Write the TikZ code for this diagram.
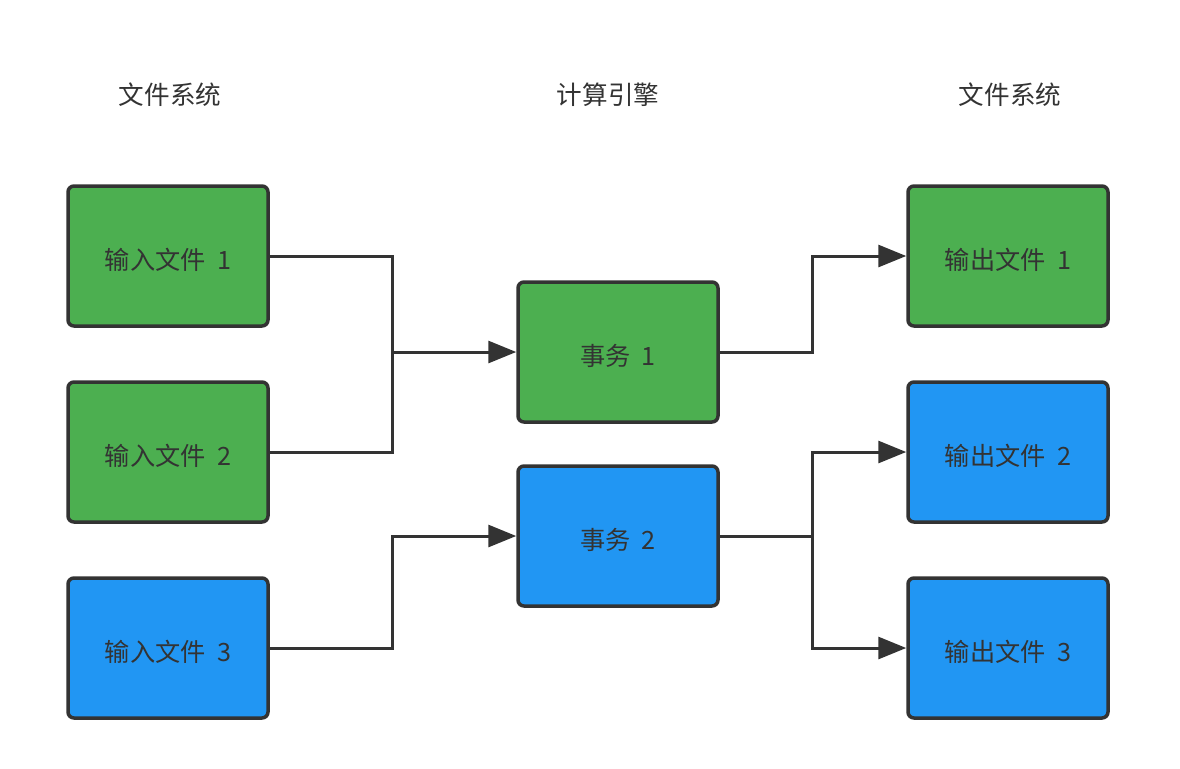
\documentclass[tikz,border=0pt]{standalone}
\usepackage{fontspec}
\setmainfont{Noto Sans CJK SC}
\usetikzlibrary{arrows.meta}
\definecolor{gfill}{HTML}{4CAF50}
\definecolor{bfill}{HTML}{2196F3}
\definecolor{dk}{HTML}{333333}
\begin{document}
\begin{tikzpicture}[x=0.5pt,y=-0.5pt,
  box/.style={draw=dk,line width=1.75pt,rounded corners=3pt,minimum width=100pt,minimum height=70pt,inner sep=0pt,text=dk,font=\fontsize{12.6pt}{14pt}\selectfont,text height=13.2pt,text depth=0pt},
  gbox/.style={box,fill=gfill},
  bbox/.style={box,fill=bfill},
  title/.style={text=dk,font=\fontsize{12.8pt}{15pt}\selectfont},
  conn/.style={draw=dk,line width=1.5pt},
  arr/.style={conn,-{Triangle[length=14pt,width=11pt]}}]
\useasboundingbox (0,0) rectangle (1180,768);
\node[title] (t1) at (170,95) {文件系统};
\node[title] (t2) at (608,95) {计算引擎};
\node[title] (t3) at (1010,95) {文件系统};
\node[gbox] (i1) at (168,256) {输入文件\hspace{0.45em}1};
\node[gbox] (i2) at (168,452) {输入文件\hspace{0.45em}2};
\node[bbox] (i3) at (168,648) {输入文件\hspace{0.45em}3};
\node[gbox] (j1) at (618,352) {事务\hspace{0.45em}1};
\node[bbox] (j2) at (618,536) {事务\hspace{0.45em}2};
\node[gbox] (o1) at (1008,256) {输出文件\hspace{0.45em}1};
\node[bbox] (o2) at (1008,452) {输出文件\hspace{0.45em}2};
\node[bbox] (o3) at (1008,648) {输出文件\hspace{0.45em}3};
\coordinate (m1) at (392,352);
\coordinate (m2) at (812,536);
\draw[conn] (i1.east) -| (m1);
\draw[conn] (i2.east) -| (m1);
\draw[arr] (m1) -- (j1.west);
\draw[arr] (i3.east) -| (392,536) -- (j2.west);
\draw[arr] (j1.east) -| (812,256) -- (o1.west);
\draw[conn] (j2.east) -- (m2);
\draw[arr] (m2) |- (o2.west);
\draw[arr] (m2) |- (o3.west);
\end{tikzpicture}
\end{document}
